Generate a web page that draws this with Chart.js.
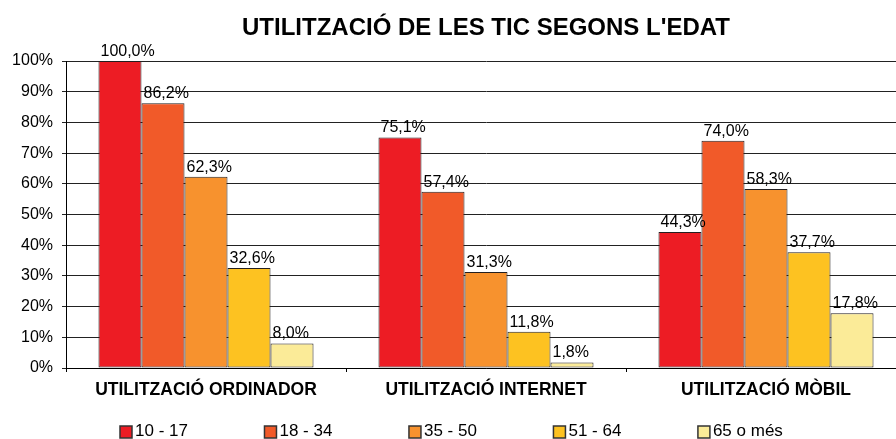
<!DOCTYPE html>
<html>
<head>
<meta charset="utf-8">
<script src="https://cdn.jsdelivr.net/npm/chart.js@4"></script>
<style>
  html, body { margin: 0; padding: 0; background: #fff; overflow: hidden; }
  #wrap { width: 908px; height: 439px; }
</style>
</head>
<body>
<div id="wrap"><canvas id="ticChart" width="908" height="439"></canvas></div>
<script>
// dades del gràfic
const categories = ['UTILITZACIÓ ORDINADOR', 'UTILITZACIÓ INTERNET', 'UTILITZACIÓ MÒBIL'];
const ageGroups = ['10 - 17', '18 - 34', '35 - 50', '51 - 64', '65 o més'];
const values1017 = [100.0, 75.1, 44.3];
const values1834 = [86.2, 57.4, 74.0];
const values3550 = [62.3, 31.3, 58.3];
const values5164 = [32.6, 11.8, 37.7];
const values65 = [8.0, 1.8, 17.8];
const yTicks = [0, 10, 20, 30, 40, 50, 60, 70, 80, 90, 100];

const seriesValues = [values1017, values1834, values3550, values5164, values65];
const colors = ['#ED1C24', '#F15A29', '#F7922E', '#FDC221', '#FBEB98'];
const FONT = '"Liberation Sans", Arial, sans-serif';

// títol centrat sobre l'àrea del gràfic
const titlePlugin = {
    id: 'titlePlugin',
    afterDraw(chart) {
        const ctx = chart.ctx;
        const area = chart.chartArea;
        ctx.save();
        ctx.font = 'bold 24px ' + FONT;
        ctx.fillStyle = '#000';
        ctx.textAlign = 'center';
        ctx.textBaseline = 'alphabetic';
        ctx.fillText("UTILITZACIÓ DE LES TIC SEGONS L'EDAT", (area.left + area.right) / 2, 35);
        ctx.restore();
    }
};

// etiquetes de valor sobre cada barra
const valueLabels = {
    id: 'valueLabels',
    afterDatasetsDraw(chart) {
        const ctx = chart.ctx;
        ctx.save();
        ctx.font = '16px ' + FONT;
        ctx.fillStyle = '#000';
        ctx.textAlign = 'left';
        ctx.textBaseline = 'alphabetic';
        chart.data.datasets.forEach((ds, i) => {
            const meta = chart.getDatasetMeta(i);
            meta.data.forEach((bar, j) => {
                const txt = ds.data[j].toFixed(1).replace('.', ',') + '%';
                ctx.fillText(txt, bar.x - bar.width / 2 + 2, bar.y - 5);
            });
        });
        ctx.restore();
    }
};

// llegenda a la part inferior
const bottomLegend = {
    id: 'bottomLegend',
    afterDraw(chart) {
        const ctx = chart.ctx;
        const area = chart.chartArea;
        const step = area.width * 0.172;
        ctx.save();
        ctx.font = '17px ' + FONT;
        ctx.textBaseline = 'alphabetic';
        chart.data.datasets.forEach((ds, i) => {
            const x = area.left + 54 + i * step;
            ctx.fillStyle = ds.backgroundColor;
            ctx.fillRect(x, 426, 12, 12);
            ctx.strokeStyle = '#333';
            ctx.lineWidth = 1.5;
            ctx.strokeRect(x, 426, 12, 12);
            ctx.fillStyle = '#000';
            ctx.fillText(ds.label, x + 15, 436);
        });
        ctx.restore();
    }
};

const ctx = document.getElementById('ticChart').getContext('2d');
const ticChart = new Chart(ctx, {
    type: 'bar',
    data: {
        labels: categories,
        datasets: ageGroups.map((g, i) => ({
            label: g,
            data: seriesValues[i],
            backgroundColor: colors[i],
            borderColor: '#231F20',
            borderWidth: 1,
            borderSkipped: false,
            categoryPercentage: 0.768,
            barPercentage: 1.0
        }))
    },
    options: {
        responsive: false,
        animation: false,
        devicePixelRatio: 1,
        layout: {
            padding: { top: 61, left: 0, right: 2, bottom: 0 }
        },
        scales: {
            x: {
                offset: true,
                grid: {
                    display: true,
                    drawOnChartArea: false,
                    offset: true,
                    color: '#000',
                    tickLength: 4,
                    tickWidth: 1
                },
                border: { color: '#000', width: 1 },
                ticks: {
                    color: '#000',
                    padding: 8,
                    font: { family: FONT, size: 17.5, weight: 'bold' }
                },
                afterFit: function(scale) { scale.height = 71; }
            },
            y: {
                min: 0,
                max: 100,
                afterBuildTicks: function(scale) {
                    scale.ticks = yTicks.map(v => ({ value: v }));
                },
                grid: {
                    color: '#222',
                    lineWidth: 1,
                    tickLength: 4
                },
                border: { color: '#000', width: 1 },
                ticks: {
                    color: '#000',
                    padding: 9,
                    font: { family: FONT, size: 16 },
                    callback: function(value) { return value + '%'; }
                },
                afterFit: function(scale) { scale.width = 66; }
            }
        },
        plugins: {
            legend: { display: false },
            title: { display: false },
            tooltip: { enabled: false }
        }
    },
    plugins: [titlePlugin, valueLabels, bottomLegend]
});
</script>
</body>
</html>
